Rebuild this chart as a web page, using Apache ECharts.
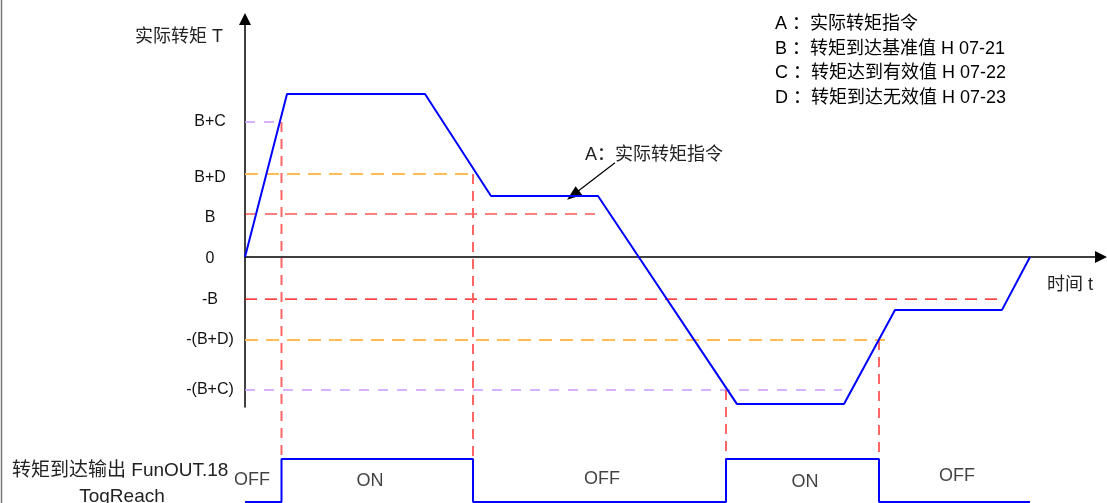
<!DOCTYPE html>
<html><head><meta charset="utf-8">
<script src="https://cdn.jsdelivr.net/npm/echarts@6/dist/echarts.min.js"></script>
<style>html,body{margin:0;padding:0;background:#fff;overflow:hidden}#c{width:1107px;height:503px}</style>
</head><body><div id="c"></div>
<script>
// ---------- data (time t, torque in units of B) ----------
const curveT = [0, 4.2, 18.0, 24.6, 35.3, 49.2, 59.9, 65.0, 75.7, 78.5];
const curveV = [0, 3.79, 3.79, 1.42, 1.42, -3.42, -3.42, -1.23, -1.23, 0];

const levelNames  = ['B+C', 'B+D', 'B', '0', '-B', '-(B+D)', '-(B+C)'];
const levelValues = [3.14, 1.93, 1.0, 0, -0.98, -1.93, -3.09];

// dashed guide lines: level and the time where they end
const guideLevels = [3.14, 1.93, 1.0, -0.98, -1.93, -3.09];
const guideEndT   = [3.6, 22.8, 35.0, 76.0, 64.0, 59.7];
const guideKinds  = ['C', 'D', 'B', 'B', 'D', 'C'];

// switching instants (vertical red dashed lines), start level
const switchT    = [3.65, 22.8, 48.1, 63.4];
const switchFrom = [3.14, 1.93, -3.09, -1.93];
const signalTopEquiv = -4.7;   // level of the ON edge in torque units

// output signal FunOUT.18
const signalT = [0, 3.65, 3.65, 22.8, 22.8, 48.1, 48.1, 63.4, 63.4, 78.5];
const signalV = [0, 0, 1, 1, 0, 0, 1, 1, 0, 0];
const stateT     = [0.7, 12.5, 35.7, 56.0, 71.2];
const stateY     = [0.51, 0.49, 0.53, 0.47, 0.6];
const stateNames = ['OFF', 'ON', 'OFF', 'ON', 'OFF'];

const legendLines = [
  'A ：实际转矩指令',
  'B ：转矩到达基准值 H 07-21',
  'C ：转矩达到有效值 H 07-22',
  'D ：转矩到达无效值 H 07-23'
];
const annotFrom = [37.0, 2.19], annotTo = [32.8, 1.44];

// ---------- styles ----------
const FONT = '"Liberation Sans", Arial, "Noto Sans CJK SC", sans-serif';
const guideStyle = {
  C: { color: '#cc99ff', width: 1.5, type: [10, 9] },
  D: { color: '#ffbb55', width: 2,   type: [13, 8] },
  B: { color: '#ff0000', width: 1.2, type: [12, 8] }
};
// small downward nudges of some tick labels (px of top padding)
const labelNudge = { 'B+D': 7, 'B': 8, '0': 4 };

const series = [];
guideLevels.forEach((v, i) => {
  const s = guideStyle[guideKinds[i]];
  series.push({
    type: 'line', xAxisIndex: 0, yAxisIndex: 0, symbol: 'none', silent: true,
    data: [[0, v], [guideEndT[i], v]],
    lineStyle: { color: s.color, width: s.width, type: s.type }, z: 2
  });
});
switchT.forEach((t, i) => {
  series.push({
    type: 'line', xAxisIndex: 0, yAxisIndex: 0, symbol: 'none', silent: true, clip: false,
    data: [[t, switchFrom[i]], [t, signalTopEquiv]],
    lineStyle: { color: '#ff6666', width: 2, type: [10, 7] }, z: 2
  });
});
series.push({
  type: 'line', xAxisIndex: 0, yAxisIndex: 0, symbol: 'none', silent: true,
  data: curveT.map((t, i) => [t, curveV[i]]),
  lineStyle: { color: '#0000ff', width: 2 }, z: 5,
  markLine: {
    silent: true, symbol: ['none', 'triangle'], symbolSize: [11, 15],
    label: { show: false },
    lineStyle: { color: '#000', width: 1.2, type: 'solid' },
    data: [[{ coord: annotFrom }, { coord: annotTo }]]
  }
});
series.push({
  type: 'line', xAxisIndex: 1, yAxisIndex: 1, symbol: 'none', silent: true, clip: false,
  data: signalT.map((t, i) => [t, signalV[i]]),
  lineStyle: { color: '#0000ff', width: 2 }, z: 5
});
series.push({
  type: 'scatter', xAxisIndex: 1, yAxisIndex: 1, symbolSize: 0, silent: true,
  data: stateT.map((t, i) => ({ value: [t, stateY[i]], name: stateNames[i] })),
  label: { show: true, position: 'inside', formatter: p => p.name,
           fontSize: 18, fontFamily: FONT, color: '#111' }
});

function txt(x, y, text, size, extra) {
  return {
    type: 'text', x: x, y: y, silent: true,
    style: Object.assign({ text: text, fontSize: size, fontFamily: FONT, fill: '#111',
                           verticalAlign: 'middle', align: 'left' }, extra || {})
  };
}
const graphics = [
  { type: 'line', silent: true, shape: { x1: 1.5, y1: 0, x2: 1.5, y2: 503 },
    style: { stroke: '#777', lineWidth: 1.5 } },
  txt(135, 37, '实际转矩 T', 18, { fill: '#222' }),
  txt(1047, 285, '时间 t', 18, { fill: '#222' }),
  txt(585, 155, 'A：实际转矩指令', 18, { fill: '#222' }),
  txt(12, 471, '转矩到达输出 FunOUT.18', 19, { fill: '#222' }),
  txt(122, 497, 'TogReach', 19, { fill: '#222', align: 'center' })
];
legendLines.forEach((l, i) => graphics.push(txt(775, 24 + i * 24.6, l, 18, { fill: '#000' })));

const rich = {};
Object.keys(labelNudge).forEach((k, i) => {
  rich['n' + i] = { fontSize: 16, fontFamily: FONT, color: '#111', padding: [labelNudge[k], 0, 0, 0] };
});

const chart = echarts.init(document.getElementById('c'), null, { renderer: 'canvas' });
chart.setOption({
  animation: false,
  backgroundColor: '#fff',
  grid: [
    { left: 245, right: 6, top: 19, bottom: 96 },
    { left: 245, right: 6, top: 459, bottom: 1 }
  ],
  xAxis: [
    { type: 'value', gridIndex: 0, min: 0, max: 85.6,
      axisLine: { show: true, onZero: true, symbol: ['none', 'triangle'], symbolSize: [12, 12],
                  lineStyle: { color: '#000', width: 1.5 } },
      axisTick: { show: false }, axisLabel: { show: false }, splitLine: { show: false } },
    { type: 'value', gridIndex: 1, min: 0, max: 85.6, show: false }
  ],
  yAxis: [
    { type: 'value', gridIndex: 0, min: -3.488, max: 5.535,
      axisLine: { show: true, onZero: true, symbol: ['none', 'triangle'], symbolSize: [12, 12],
                  lineStyle: { color: '#000', width: 1.5 } },
      axisTick: { show: false }, splitLine: { show: false },
      axisLabel: { show: true, customValues: levelValues, margin: 35, align: 'center',
                   fontSize: 16, fontFamily: FONT, color: '#111', rich: rich,
                   formatter: function (v) {
                     let best = 0;
                     levelValues.forEach((lv, i) => { if (Math.abs(lv - v) < Math.abs(levelValues[best] - v)) best = i; });
                     const name = levelNames[best];
                     const ni = Object.keys(labelNudge).indexOf(name);
                     return ni >= 0 ? '{n' + ni + '|' + name + '}' : name;
                   } } },
    { type: 'value', gridIndex: 1, min: 0, max: 1, show: false }
  ],
  series: series,
  graphic: graphics
});
</script>
</body></html>
